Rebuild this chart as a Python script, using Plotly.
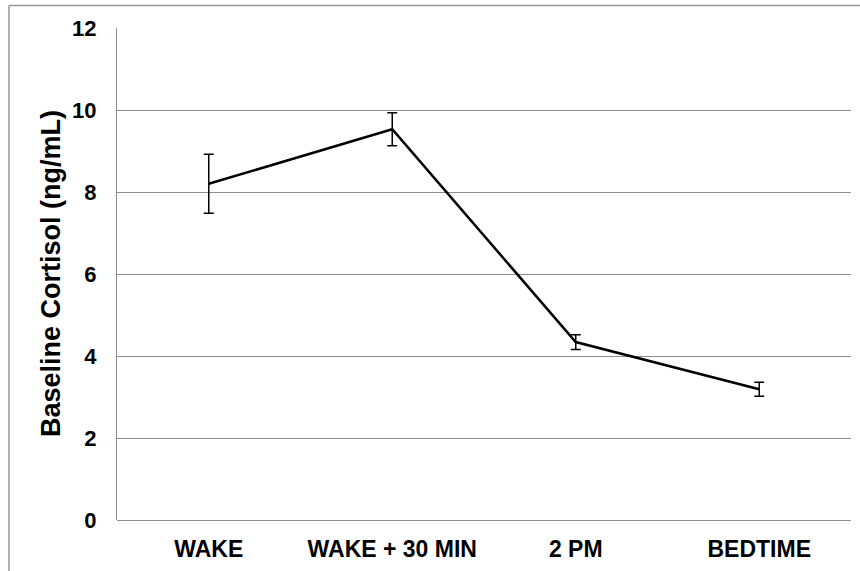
import plotly.graph_objects as go

categories = ["WAKE", "WAKE + 30 MIN", "2 PM", "BEDTIME"]
cortisol = [8.2, 9.53, 4.34, 3.19]
errors = [0.72, 0.40, 0.18, 0.17]
y_ticks = [0, 2, 4, 6, 8, 10, 12]

W, H = 860, 571
ml, mr, mt, mb = 117, 9, 28, 51
pw, ph = W - ml - mr, H - mt - mb

fig = go.Figure()
fig.add_trace(go.Scatter(
    x=categories, y=cortisol, mode="lines",
    line=dict(color="black", width=2.5),
    error_y=dict(type="data", array=errors, visible=True,
                 color="black", thickness=1.5, width=5),
    showlegend=False, hoverinfo="skip",
))

fam = "Liberation Sans, Arial, sans-serif"
xfont = dict(family=fam, color="black", size=23, weight="bold")
yfont = dict(family=fam, color="black", size=22, weight="bold")

fig.update_layout(
    width=W, height=H,
    margin=dict(l=ml, r=mr, t=mt, b=mb, pad=0),
    paper_bgcolor="white", plot_bgcolor="white",
    font=yfont,
    xaxis=dict(type="category", range=[-0.5, 3.5], showgrid=False,
               showline=False, ticks="", tickfont=xfont, zeroline=False,
               ticklabelstandoff=13),
    yaxis=dict(range=[0, 12], tickvals=y_ticks, showgrid=True,
               gridcolor="#8c8c8c", gridwidth=1, zeroline=True,
               zerolinecolor="#8c8c8c", zerolinewidth=1,
               showline=True, linecolor="#8c8c8c", linewidth=1,
               ticks="", tickfont=yfont, ticklabelstandoff=15),
)

fig.add_annotation(
    text="Baseline Cortisol (ng/mL)", textangle=-90,
    xref="paper", yref="paper", x=(51 - ml) / pw, y=1 - (274 - mt) / ph,
    xanchor="center", yanchor="middle", showarrow=False,
    font=dict(family=fam, size=27, color="black", weight="bold"),
)

# outer frame (left and top edges visible)
fx = (9 - ml) / pw
fy = 1 + (mt - 5.5) / ph
fig.add_shape(type="line", xref="paper", yref="paper",
              x0=fx, x1=fx, y0=-0.2, y1=fy,
              line=dict(color="#999999", width=1.5))
fig.add_shape(type="line", xref="paper", yref="paper",
              x0=fx, x1=1.1, y0=fy, y1=fy,
              line=dict(color="#999999", width=1.5))

fig.write_html("out.html", config={"displayModeBar": False},
               post_script="document.body.style.margin='0';document.body.style.overflow='hidden';")
